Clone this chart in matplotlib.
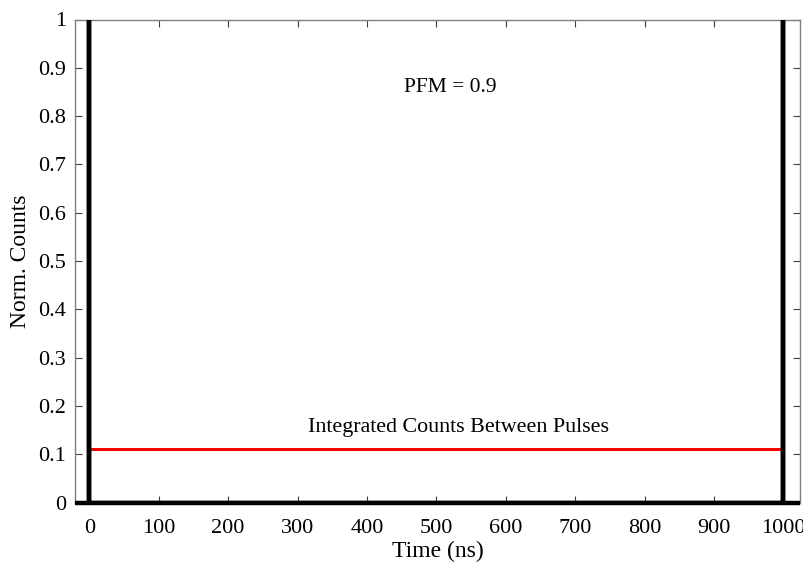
import numpy as np
import matplotlib
matplotlib.use("Agg")
import matplotlib.pyplot as plt
plt.rcParams.update({'font.family': ['Liberation Serif', 'DejaVu Serif']})
plt.rcParams.update({'font.size': 16})

# данные
pulse_t = [0, 0, 0, 1000, 1000, 1000]
pulse_y = [0, 1, 0, 0, 1, 0]
base_t = [-20, 1024]
base_y = [0, 0]
integ_t = [2, 998]
integ_y = [0.11, 0.11]
pfm = 0.9

xticks = np.arange(0, 1001, 100)
yticks = np.arange(0, 1.01, 0.1)
ytick_labels = ['0'] + [f'{v:.1f}' for v in yticks[1:-1]] + ['1']

fig = plt.figure(figsize=(8.04, 5.64), dpi=100)
ax = fig.add_axes([75.5/804, 1-502.6/564, (800-75.5)/804, (502.6-19.5)/564])

ax.plot(base_t, base_y, color='black', lw=3.2, solid_capstyle='butt', zorder=3, clip_on=False)
ax.plot(pulse_t, pulse_y, color='black', lw=3.2, solid_capstyle='butt', zorder=3)
ax.plot(integ_t, integ_y, color='red', lw=2.2, zorder=2)

ax.text(520, 0.86, f'PFM = {pfm}', ha='center', va='center', fontsize=15.5)
ax.text(532, 0.156, 'Integrated Counts Between Pulses', ha='center', va='center', fontsize=15.8)

ax.set_xlim(-20, 1024)
ax.set_ylim(0, 1)
ax.set_xticks(xticks)
ax.set_yticks(yticks)
ax.set_yticklabels(ytick_labels)
ax.tick_params(direction='in', top=True, right=True, length=5, width=0.8, color='#404040', labelsize=16)
ax.tick_params(axis='x', pad=12)
ax.tick_params(axis='y', pad=7)
for s in ax.spines.values():
    s.set_color('#7f7f7f')
    s.set_linewidth(1.0)
ax.set_xlabel('Time (ns)', fontsize=17, labelpad=2)
ax.set_ylabel('Norm. Counts', fontsize=17, labelpad=5)

fig.savefig('out.png', dpi=100)
